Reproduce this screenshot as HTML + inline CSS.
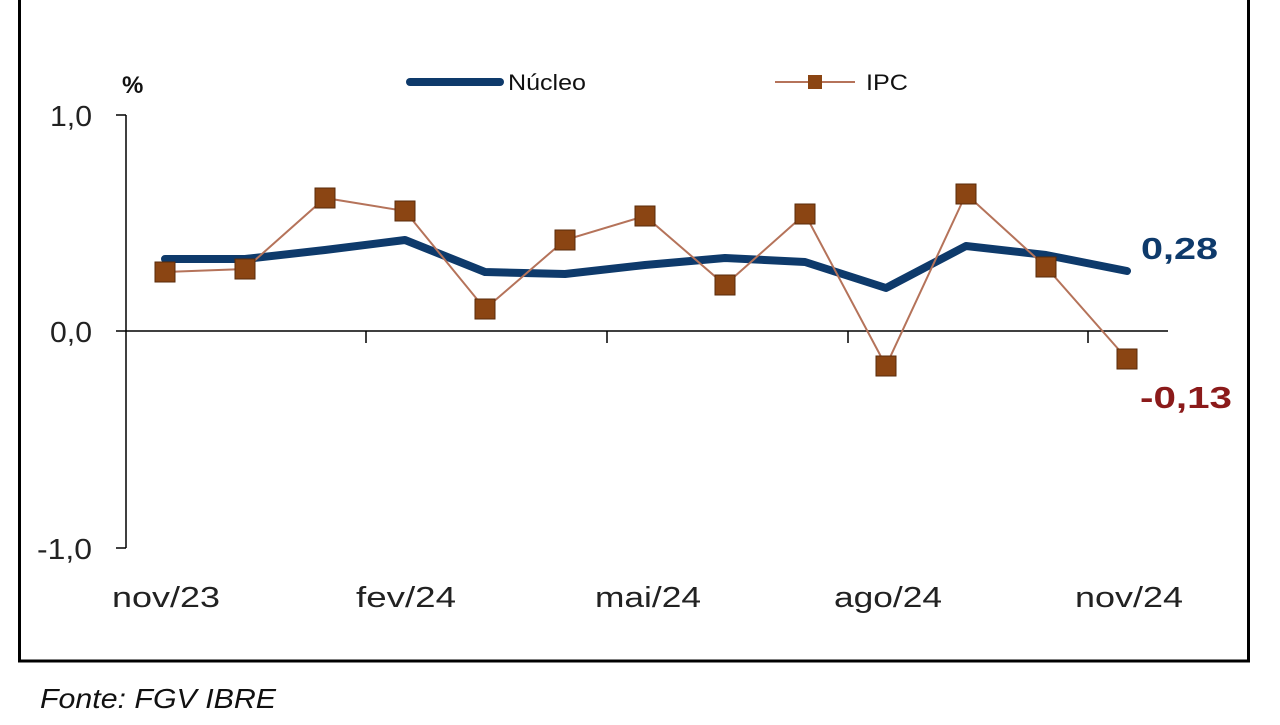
<!DOCTYPE html>
<html><head><meta charset="utf-8"><style>
html,body{margin:0;padding:0;background:#fff;}
</style></head><body>
<svg width="1280" height="720" xmlns="http://www.w3.org/2000/svg" font-family="Liberation Sans, sans-serif">
<rect x="0" y="0" width="1280" height="720" fill="#fff"/>
<rect x="19.5" y="-2" width="1229" height="663" fill="none" stroke="#000" stroke-width="3"/>
<text x="122" y="93" font-size="24" font-weight="bold" fill="#111">%</text>
<line x1="410" y1="82" x2="500" y2="82" stroke="#0e3a6b" stroke-width="8" stroke-linecap="round"/>
<text x="508" y="90" font-size="22" fill="#111" textLength="78" lengthAdjust="spacingAndGlyphs">Núcleo</text>
<line x1="775" y1="82" x2="855" y2="82" stroke="#b5735a" stroke-width="2"/>
<rect x="808" y="75" width="14" height="14" fill="#8b4513"/>
<text x="866" y="90" font-size="22" fill="#111" textLength="42" lengthAdjust="spacingAndGlyphs">IPC</text>
<line x1="126" y1="115" x2="126" y2="548" stroke="#000" stroke-width="1.5"/>
<line x1="116" y1="115" x2="126" y2="115" stroke="#000" stroke-width="1.5"/>
<line x1="116" y1="331" x2="126" y2="331" stroke="#000" stroke-width="1.5"/>
<line x1="116" y1="548" x2="126" y2="548" stroke="#000" stroke-width="1.5"/>
<line x1="126" y1="331" x2="1168" y2="331" stroke="#000" stroke-width="1.5"/>
<g stroke="#000" stroke-width="1.5"><line x1="366" y1="331" x2="366" y2="343"/><line x1="607" y1="331" x2="607" y2="343"/><line x1="848" y1="331" x2="848" y2="343"/><line x1="1088" y1="331" x2="1088" y2="343"/></g>
<g font-size="29" fill="#222">
<text x="50" y="126" textLength="42" lengthAdjust="spacingAndGlyphs">1,0</text>
<text x="50" y="342" textLength="42" lengthAdjust="spacingAndGlyphs">0,0</text>
<text x="37" y="559" textLength="55" lengthAdjust="spacingAndGlyphs">-1,0</text>
<text x="112" y="607" textLength="108" lengthAdjust="spacingAndGlyphs">nov/23</text>
<text x="356" y="607" textLength="100" lengthAdjust="spacingAndGlyphs">fev/24</text>
<text x="595" y="607" textLength="106" lengthAdjust="spacingAndGlyphs">mai/24</text>
<text x="834" y="607" textLength="108" lengthAdjust="spacingAndGlyphs">ago/24</text>
<text x="1075" y="607" textLength="108" lengthAdjust="spacingAndGlyphs">nov/24</text>
</g>
<polyline fill="none" stroke="#0e3a6b" stroke-width="8" stroke-linejoin="round" stroke-linecap="round" points="165,259 245,259 325,250 405,240 485,272 565,274 645,265 725,258 805,262 886,288 966,246 1046,255 1127,271"/>
<polyline fill="none" stroke="#b5735a" stroke-width="2" points="165,272 245,269 325,198 405,211 485,309 565,240 645,216 725,285 805,214 886,366 966,194 1046,267 1127,359"/>
<g fill="#8b4513" stroke="#5a2a0a" stroke-width="1">
<rect x="155" y="262" width="20" height="20"/><rect x="235" y="259" width="20" height="20"/><rect x="315" y="188" width="20" height="20"/><rect x="395" y="201" width="20" height="20"/><rect x="475" y="299" width="20" height="20"/><rect x="555" y="230" width="20" height="20"/><rect x="635" y="206" width="20" height="20"/><rect x="715" y="275" width="20" height="20"/><rect x="795" y="204" width="20" height="20"/><rect x="876" y="356" width="20" height="20"/><rect x="956" y="184" width="20" height="20"/><rect x="1036" y="257" width="20" height="20"/><rect x="1117" y="349" width="20" height="20"/>
</g>
<text x="1141" y="259" font-size="31" font-weight="bold" fill="#0e3a6b" textLength="77" lengthAdjust="spacingAndGlyphs">0,28</text>
<text x="1140" y="408" font-size="31" font-weight="bold" fill="#8b1a1a" textLength="92" lengthAdjust="spacingAndGlyphs">-0,13</text>
<text x="40" y="708" font-size="28" font-style="italic" fill="#111" textLength="236" lengthAdjust="spacingAndGlyphs">Fonte: FGV IBRE</text>
</svg>
</body></html>
